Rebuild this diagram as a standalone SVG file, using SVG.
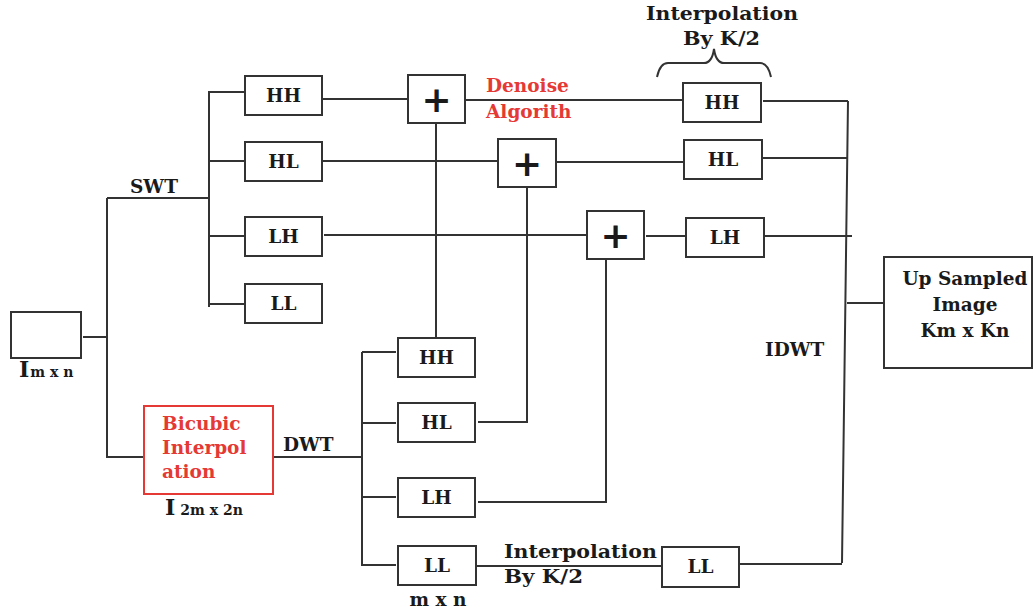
<svg xmlns="http://www.w3.org/2000/svg" width="1034" height="613" viewBox="0 0 1034 613">
<style>
.box{fill:#fff;stroke:#333;stroke-width:2}
.rbox{fill:#fff;stroke:#e53935;stroke-width:2}
.ln{stroke:#333;stroke-width:2;fill:none}
.t{font-family:"DejaVu Serif",serif;font-weight:bold;font-size:18.5px;fill:#1a1a1a}
.big{font-size:22px}
.sm{font-size:14px}
.c{text-anchor:middle}
.red{fill:#e53935}
.plus{font-family:"DejaVu Sans",sans-serif;font-weight:bold;font-size:36px;fill:#1a1a1a;text-anchor:middle}
</style>
<rect width="1034" height="613" fill="#fff"/>
<g id="connectors">
<path class="ln" d="M83 337H107M107 198V457H143M107 198H209M209 91V307M209 92H245M209 161H245M209 236H245M209 304H245"/>
<path class="ln" d="M322 99H408M465 100H683M763 101H848"/>
<path class="ln" d="M322 161H498M557 162H684M762 158H848"/>
<path class="ln" d="M324 235H587M646 236H686M765 236H852"/>
<path class="ln" d="M436 123V338M527 187V422H478M606 260V502H478"/>
<path class="ln" d="M273 457H362M362 352V566M362 352H396M362 423H396M362 497H396M362 565H396"/>
<path class="ln" d="M476 566H662M739 564H842"/>
<path class="ln" d="M848 101L842 563M847 303H884"/>
<path class="ln" d="M657 77Q660 63 668 63H704Q712 63 714 49Q716 63 724 63H760Q768 63 771 77"/>
</g>
<g id="input"><rect class="box" x="11" y="312" width="70" height="46"/>
<text class="t big" x="19" y="377">I<tspan class="sm" dx="1">m x n</tspan></text></g>
<g id="bicubic"><rect class="rbox" x="144" y="406" width="129" height="88"/>
<text class="t red" x="162" y="430">Bicubic</text><text class="t red" x="162" y="454">Interpol</text><text class="t red" x="162" y="478">ation</text>
<text class="t big" x="165" y="515">I<tspan class="sm" dx="5">2m x 2n</tspan></text></g>
<g id="swt-label"><text class="t" x="130" y="193">SWT</text></g>
<g id="swt-hh"><rect class="box" x="245" y="76" width="77" height="39"/><text class="t c" x="283.5" y="102">HH</text></g>
<g id="swt-hl"><rect class="box" x="245" y="142" width="77" height="39"/><text class="t c" x="283.5" y="168">HL</text></g>
<g id="swt-lh"><rect class="box" x="245" y="217" width="77" height="39"/><text class="t c" x="283.5" y="243">LH</text></g>
<g id="swt-ll"><rect class="box" x="245" y="284" width="77" height="39"/><text class="t c" x="283.5" y="310">LL</text></g>
<g id="plus1"><rect class="box" x="408" y="75" width="57" height="48"/><text class="plus" x="436.5" y="112">+</text></g>
<g id="plus2"><rect class="box" x="498" y="139" width="58" height="48"/><text class="plus" x="527" y="176">+</text></g>
<g id="plus3"><rect class="box" x="587" y="211" width="57" height="48"/><text class="plus" x="615.5" y="248">+</text></g>
<g id="denoise"><text class="t red" x="486" y="92">Denoise</text><text class="t red" x="486" y="118">Algorith</text></g>
<g id="interp-top"><text class="t" x="646" y="20" textLength="152" lengthAdjust="spacingAndGlyphs">Interpolation</text><text class="t" x="683" y="45" textLength="77" lengthAdjust="spacingAndGlyphs">By K/2</text></g>
<g id="int-hh"><rect class="box" x="683" y="83" width="78" height="39"/><text class="t c" x="722" y="109">HH</text></g>
<g id="int-hl"><rect class="box" x="684" y="140" width="78" height="39"/><text class="t c" x="723" y="166">HL</text></g>
<g id="int-lh"><rect class="box" x="686" y="218" width="78" height="39"/><text class="t c" x="725" y="244">LH</text></g>
<g id="dwt-label"><text class="t" x="283" y="451">DWT</text></g>
<g id="dwt-hh"><rect class="box" x="398" y="338" width="77" height="39"/><text class="t c" x="436.5" y="364">HH</text></g>
<g id="dwt-hl"><rect class="box" x="398" y="403" width="77" height="39"/><text class="t c" x="436.5" y="429">HL</text></g>
<g id="dwt-lh"><rect class="box" x="398" y="478" width="77" height="39"/><text class="t c" x="436.5" y="504">LH</text></g>
<g id="dwt-ll"><rect class="box" x="398" y="546" width="78" height="39"/><text class="t c" x="437" y="572">LL</text>
<text class="t c" x="438" y="606">m x n</text></g>
<g id="interp-bottom"><text class="t" x="504" y="558" textLength="153" lengthAdjust="spacingAndGlyphs">Interpolation</text><text class="t" x="504" y="583" textLength="79" lengthAdjust="spacingAndGlyphs">By K/2</text></g>
<g id="int-ll"><rect class="box" x="662" y="547" width="77" height="40"/><text class="t c" x="700.5" y="573">LL</text></g>
<g id="idwt-label"><text class="t" x="765" y="356">IDWT</text></g>
<g id="output"><rect class="box" x="884" y="257" width="148" height="111"/>
<text class="t c" x="965" y="285">Up Sampled</text><text class="t c" x="965" y="311">Image</text><text class="t c" x="965" y="337">Km x Kn</text></g>
</svg>
